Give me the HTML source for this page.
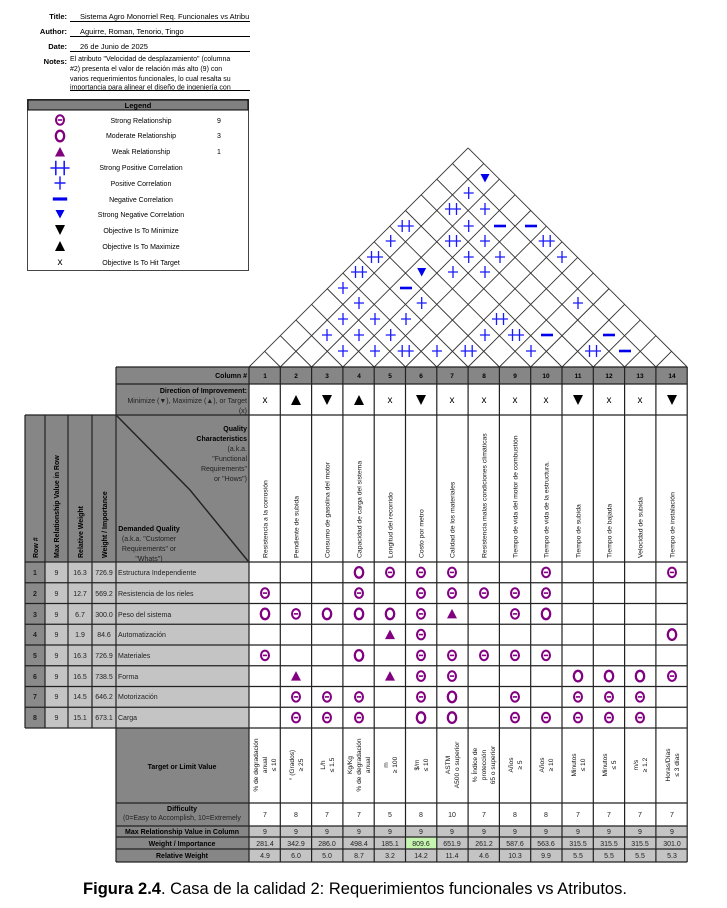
<!DOCTYPE html>
<html><head><meta charset="utf-8"><style>
html,body{margin:0;padding:0;background:#fff;}
svg{display:block;font-family:"Liberation Sans",Arial,sans-serif;}
</style></head><body>
<svg width="727" height="908" viewBox="0 0 727 908" xmlns="http://www.w3.org/2000/svg">
<defs>
<g id="p"><path d="M-5 0H5M0-6V6" stroke="#1a1aff" stroke-width="1.3" fill="none"/></g>
<g id="pp"><path d="M-8 0H8M-3.5-6V6M3.5-6V6" stroke="#1a1aff" stroke-width="1.3" fill="none"/></g>
<g id="mn"><path d="M-6 0H6" stroke="#0000ee" stroke-width="2.6"/></g>
<g id="tv"><polygon points="-4.5,-4 4.5,-4 0,4.5" fill="#0000ee"/></g>
<g id="S"><ellipse rx="4" ry="4.8" fill="none" stroke="#800080" stroke-width="2"/><path d="M-2.2 0H2.2" stroke="#800080" stroke-width="1.6"/></g>
<g id="M"><ellipse rx="4.2" ry="5.3" fill="none" stroke="#800080" stroke-width="2.3"/></g>
<g id="W"><polygon points="-5,4.5 5,4.5 0,-5" fill="#800080"/></g>
<g id="dn"><polygon points="-5,-5 5,-5 0,5" fill="#000"/></g>
<g id="up"><polygon points="-5,5 5,5 0,-5" fill="#000"/></g>
</defs>

<!-- Title block -->
<g font-size="7.5" fill="#000">
<text x="67" y="19" text-anchor="end" font-weight="bold">Title:</text>
<text x="80" y="19">Sistema Agro Monorriel Req. Funcionales vs Atribu</text>
<text x="67" y="34" text-anchor="end" font-weight="bold">Author:</text>
<text x="80" y="34">Aguirre, Roman, Tenorio, Tingo</text>
<text x="67" y="49" text-anchor="end" font-weight="bold">Date:</text>
<text x="80" y="49">26 de Junio de 2025</text>
<text x="67" y="64" text-anchor="end" font-weight="bold">Notes:</text>
<text x="70" y="61" font-size="7">El atributo "Velocidad de desplazamiento" (columna</text>
<text x="70" y="71" font-size="7">#2) presenta el valor de relación más alto (9) con</text>
<text x="70" y="81" font-size="7">varios requerimientos funcionales, lo cual resalta su</text>
</g>
<text x="70" y="89.5" font-size="7" fill="#000">importancia para alinear el diseño de ingeniería con</text>
<rect x="68" y="89.6" width="183" height="3" fill="#fff"/>
<g stroke="#000" stroke-width="1">
<line x1="70" y1="21.5" x2="250" y2="21.5"/>
<line x1="70" y1="36.5" x2="250" y2="36.5"/>
<line x1="70" y1="51.5" x2="250" y2="51.5"/>
<line x1="70" y1="90.5" x2="250" y2="90.5"/>
</g>

<!-- Legend -->
<rect x="27.5" y="99.5" width="221" height="171" fill="#fff" stroke="#444" stroke-width="1"/>
<rect x="28" y="100" width="220" height="10" fill="#808080" stroke="#000" stroke-width="1"/>
<text x="138" y="108" font-size="7.5" font-weight="bold" text-anchor="middle">Legend</text>
<g font-size="7" text-anchor="middle" fill="#000">
<use href="#S" x="60" y="120"/><text x="141" y="123">Strong Relationship</text><text x="219" y="123">9</text>
<use href="#M" x="60" y="136"/><text x="141" y="138">Moderate Relationship</text><text x="219" y="138">3</text>
<use href="#W" x="60" y="152"/><text x="141" y="154">Weak Relationship</text><text x="219" y="154">1</text>
<g transform="translate(60,168) scale(1.2)"><use href="#pp"/></g><text x="141" y="170">Strong Positive Correlation</text>
<g transform="translate(60,183) scale(1.1)"><use href="#p"/></g><text x="141" y="186">Positive Correlation</text>
<g transform="translate(60,199) scale(1.2)"><use href="#mn"/></g><text x="141" y="202">Negative Correlation</text>
<use href="#tv" x="60" y="214"/><text x="141" y="217">Strong Negative Correlation</text>
<use href="#dn" x="60" y="230"/><text x="141" y="233">Objective Is To Minimize</text>
<use href="#up" x="60" y="246"/><text x="141" y="249">Objective Is To Maximize</text>
<text x="60" y="265" font-size="10">x</text><text x="141" y="265">Objective Is To Hit Target</text>
</g>

<!-- Roof -->
<g stroke="#333" stroke-width="0.9" fill="none">
<line x1="249" y1="367" x2="468.1" y2="147.9"/>
<line x1="280.3" y1="367" x2="483.75" y2="163.55"/>
<line x1="311.6" y1="367" x2="499.4" y2="179.2"/>
<line x1="342.9" y1="367" x2="515.05" y2="194.85"/>
<line x1="374.2" y1="367" x2="530.7" y2="210.5"/>
<line x1="405.5" y1="367" x2="546.35" y2="226.15"/>
<line x1="436.8" y1="367" x2="562" y2="241.8"/>
<line x1="468.1" y1="367" x2="577.65" y2="257.45"/>
<line x1="499.4" y1="367" x2="593.3" y2="273.1"/>
<line x1="530.7" y1="367" x2="608.95" y2="288.75"/>
<line x1="562" y1="367" x2="624.6" y2="304.4"/>
<line x1="593.3" y1="367" x2="640.25" y2="320.05"/>
<line x1="624.6" y1="367" x2="655.9" y2="335.7"/>
<line x1="655.9" y1="367" x2="671.55" y2="351.35"/>
<line x1="280.3" y1="367" x2="264.65" y2="351.35"/>
<line x1="311.6" y1="367" x2="280.3" y2="335.7"/>
<line x1="342.9" y1="367" x2="295.95" y2="320.05"/>
<line x1="374.2" y1="367" x2="311.6" y2="304.4"/>
<line x1="405.5" y1="367" x2="327.25" y2="288.75"/>
<line x1="436.8" y1="367" x2="342.9" y2="273.1"/>
<line x1="468.1" y1="367" x2="358.55" y2="257.45"/>
<line x1="499.4" y1="367" x2="374.2" y2="241.8"/>
<line x1="530.7" y1="367" x2="389.85" y2="226.15"/>
<line x1="562" y1="367" x2="405.5" y2="210.5"/>
<line x1="593.3" y1="367" x2="421.15" y2="194.85"/>
<line x1="624.6" y1="367" x2="436.8" y2="179.2"/>
<line x1="655.9" y1="367" x2="452.45" y2="163.55"/>
<line x1="687.2" y1="367" x2="468.1" y2="147.9"/>
</g>
<g>
<use href="#tv" x="485" y="178"/>
<use href="#p" x="468.7" y="193"/>
<use href="#pp" x="453" y="209"/><use href="#p" x="485" y="209"/>
<use href="#pp" x="405.7" y="226"/><use href="#p" x="468.7" y="226"/><use href="#mn" x="500" y="226"/><use href="#mn" x="531" y="226"/>
<use href="#p" x="390.7" y="241"/><use href="#pp" x="453" y="241"/><use href="#p" x="485" y="241"/><use href="#pp" x="546.7" y="241"/>
<use href="#pp" x="375" y="257"/><use href="#p" x="468.7" y="257"/><use href="#p" x="500" y="257"/><use href="#p" x="562" y="257"/>
<use href="#pp" x="359" y="272"/><use href="#tv" x="421.7" y="272"/><use href="#p" x="453" y="272"/><use href="#p" x="485" y="272"/>
<use href="#p" x="343" y="288"/><use href="#mn" x="406" y="288"/>
<use href="#p" x="359" y="303"/><use href="#p" x="421.7" y="303"/><use href="#p" x="578" y="303"/>
<use href="#p" x="343" y="319"/><use href="#p" x="375" y="319"/><use href="#p" x="406" y="319"/><use href="#pp" x="500" y="319"/>
<use href="#p" x="327" y="335"/><use href="#p" x="359" y="335"/><use href="#p" x="390.7" y="335"/><use href="#p" x="485" y="335"/><use href="#pp" x="516" y="335"/><use href="#mn" x="547" y="335"/><use href="#mn" x="609" y="335"/>
<use href="#p" x="343" y="351"/><use href="#p" x="375" y="351"/><use href="#pp" x="405.7" y="351"/><use href="#p" x="437" y="351"/><use href="#pp" x="468.7" y="351"/><use href="#p" x="531" y="351"/><use href="#pp" x="593" y="351"/><use href="#mn" x="625" y="351"/>
</g>

<!-- backgrounds -->
<rect x="116" y="367" width="571.2" height="17" fill="#868686"/>
<rect x="116" y="384" width="133" height="31" fill="#868686"/>
<rect x="25" y="415" width="224" height="147" fill="#868686"/>
<rect x="25" y="562" width="224" height="166" fill="#c4c4c4"/>
<rect x="25" y="562" width="20" height="166" fill="#8a8a8a"/>
<rect x="116" y="728" width="133" height="134" fill="#868686"/>
<rect x="249" y="826" width="438.2" height="36" fill="#c4c4c4"/>
<rect x="405.5" y="837" width="31.3" height="12" fill="#c6f5b0"/>

<!-- grid lines -->
<g stroke="#222" stroke-width="1.2" fill="none">
<line x1="116" y1="367" x2="687.2" y2="367"/>
<line x1="116" y1="384" x2="687.2" y2="384"/>
<line x1="25" y1="415" x2="687.2" y2="415"/>
<line x1="25" y1="562" x2="687.2" y2="562"/>
<line x1="25" y1="582.75" x2="687.2" y2="582.75"/>
<line x1="25" y1="603.5" x2="687.2" y2="603.5"/>
<line x1="25" y1="624.25" x2="687.2" y2="624.25"/>
<line x1="25" y1="645" x2="687.2" y2="645"/>
<line x1="25" y1="665.75" x2="687.2" y2="665.75"/>
<line x1="25" y1="686.5" x2="687.2" y2="686.5"/>
<line x1="25" y1="707.25" x2="687.2" y2="707.25"/>
<line x1="25" y1="728" x2="687.2" y2="728"/>
<line x1="116" y1="803" x2="687.2" y2="803"/>
<line x1="116" y1="826" x2="687.2" y2="826"/>
<line x1="116" y1="837" x2="687.2" y2="837"/>
<line x1="116" y1="849" x2="687.2" y2="849"/>
<line x1="116" y1="862" x2="687.2" y2="862"/>
<line x1="25" y1="415" x2="25" y2="728"/>
<line x1="45" y1="415" x2="45" y2="728"/>
<line x1="68" y1="415" x2="68" y2="728"/>
<line x1="92" y1="415" x2="92" y2="728"/>
<line x1="116" y1="367" x2="116" y2="862"/>
<line x1="249" y1="367" x2="249" y2="862"/>
<line x1="280.3" y1="367" x2="280.3" y2="862"/>
<line x1="311.6" y1="367" x2="311.6" y2="862"/>
<line x1="342.9" y1="367" x2="342.9" y2="862"/>
<line x1="374.2" y1="367" x2="374.2" y2="862"/>
<line x1="405.5" y1="367" x2="405.5" y2="862"/>
<line x1="436.8" y1="367" x2="436.8" y2="862"/>
<line x1="468.1" y1="367" x2="468.1" y2="862"/>
<line x1="499.4" y1="367" x2="499.4" y2="862"/>
<line x1="530.7" y1="367" x2="530.7" y2="862"/>
<line x1="562" y1="367" x2="562" y2="862"/>
<line x1="593.3" y1="367" x2="593.3" y2="862"/>
<line x1="624.6" y1="367" x2="624.6" y2="862"/>
<line x1="655.9" y1="367" x2="655.9" y2="862"/>
<line x1="687.2" y1="367" x2="687.2" y2="862"/>
<polyline points="117,416 190,490 248,561" stroke-width="1.4"/>
</g>

<!-- header texts -->
<g font-size="7" fill="#000">
<text x="247" y="378" text-anchor="end" font-weight="bold">Column #</text>
<text x="247" y="393" text-anchor="end" font-weight="bold">Direction of Improvement:</text>
<text x="247" y="403" text-anchor="end" fill="#222">Minimize (▼), Maximize (▲), or Target</text>
<text x="247" y="413" text-anchor="end" fill="#222">(x)</text>
<text x="247" y="431" text-anchor="end" font-weight="bold">Quality</text>
<text x="247" y="441" text-anchor="end" font-weight="bold">Characteristics</text>
<text x="247" y="451" text-anchor="end" fill="#222">(a.k.a.</text>
<text x="247" y="461" text-anchor="end" fill="#222">"Functional</text>
<text x="247" y="471" text-anchor="end" fill="#222">Requirements"</text>
<text x="247" y="481" text-anchor="end" fill="#222">or "Hows")</text>
<text x="149" y="531" text-anchor="middle" font-weight="bold">Demanded Quality</text>
<text x="149" y="541" text-anchor="middle" fill="#222">(a.k.a. "Customer</text>
<text x="149" y="551" text-anchor="middle" fill="#222">Requirements" or</text>
<text x="149" y="561" text-anchor="middle" fill="#222">"Whats")</text>
<g font-weight="bold">
<text transform="translate(38,558) rotate(-90)">Row #</text>
<text transform="translate(59,558) rotate(-90)">Max Relationship Value in Row</text>
<text transform="translate(83,558) rotate(-90)">Relative Weight</text>
<text transform="translate(107,558) rotate(-90)">Weight / Importance</text>
</g>
<g font-weight="bold" text-anchor="middle" font-size="6.5">
<text x="265" y="378">1</text><text x="296" y="378">2</text><text x="327" y="378">3</text><text x="359" y="378">4</text><text x="390" y="378">5</text><text x="421" y="378">6</text><text x="452" y="378">7</text><text x="484" y="378">8</text><text x="515" y="378">9</text><text x="546" y="378">10</text><text x="578" y="378">11</text><text x="609" y="378">12</text><text x="640" y="378">13</text><text x="672" y="378">14</text>
</g>
<g font-size="6.8" fill="#111">
<text transform="translate(267.5,558) rotate(-90)">Resistencia a la corrosión</text>
<text transform="translate(298.5,558) rotate(-90)">Pendiente de subida</text>
<text transform="translate(329.5,558) rotate(-90)">Consumo de gasolina del motor</text>
<text transform="translate(361.5,558) rotate(-90)">Capacidad de carga del sistema</text>
<text transform="translate(392.5,558) rotate(-90)">Longitud del recorrido</text>
<text transform="translate(423.5,558) rotate(-90)">Costo por metro</text>
<text transform="translate(454.5,558) rotate(-90)">Calidad de los materiales</text>
<text transform="translate(486.5,558) rotate(-90)">Resistencia malas condiciones climáticas</text>
<text transform="translate(517.5,558) rotate(-90)">Tiempo de vida del motor de combustión</text>
<text transform="translate(548.5,558) rotate(-90)">Tiempo de vida de la estructura.</text>
<text transform="translate(580.5,558) rotate(-90)">Tiempo de subida</text>
<text transform="translate(611.5,558) rotate(-90)">Tiempo de bajada</text>
<text transform="translate(642.5,558) rotate(-90)">Velocidad de subida</text>
<text transform="translate(674.5,558) rotate(-90)">Tiempo de instalación</text>
</g>
</g>

<!-- directions -->
<g font-size="10" text-anchor="middle">
<text x="265" y="403">x</text>
<use href="#up" x="296" y="400"/>
<use href="#dn" x="327" y="400"/>
<use href="#up" x="359" y="400"/>
<text x="390" y="403">x</text>
<use href="#dn" x="421" y="400"/>
<text x="452" y="403">x</text><text x="484" y="403">x</text><text x="515" y="403">x</text><text x="546" y="403">x</text>
<use href="#dn" x="578" y="400"/>
<text x="609" y="403">x</text><text x="640" y="403">x</text>
<use href="#dn" x="672" y="400"/>
</g>

<!-- left data -->
<g font-size="7" text-anchor="middle" fill="#222">
<g font-weight="bold">
<text x="35" y="575">1</text><text x="35" y="596">2</text><text x="35" y="617">3</text><text x="35" y="637">4</text><text x="35" y="658">5</text><text x="35" y="679">6</text><text x="35" y="699">7</text><text x="35" y="720">8</text>
</g>
<text x="56.5" y="575">9</text><text x="56.5" y="596">9</text><text x="56.5" y="617">9</text><text x="56.5" y="637">9</text><text x="56.5" y="658">9</text><text x="56.5" y="679">9</text><text x="56.5" y="699">9</text><text x="56.5" y="720">9</text>
<text x="80" y="575">16.3</text><text x="80" y="596">12.7</text><text x="80" y="617">6.7</text><text x="80" y="637">1.9</text><text x="80" y="658">16.3</text><text x="80" y="679">16.5</text><text x="80" y="699">14.5</text><text x="80" y="720">15.1</text>
<text x="104" y="575">726.9</text><text x="104" y="596">569.2</text><text x="104" y="617">300.0</text><text x="104" y="637">84.6</text><text x="104" y="658">726.9</text><text x="104" y="679">738.5</text><text x="104" y="699">646.2</text><text x="104" y="720">673.1</text>
</g>
<g font-size="7" fill="#222">
<text x="118" y="575">Estructura Independiente</text>
<text x="118" y="596">Resistencia de los rieles</text>
<text x="118" y="617">Peso del sistema</text>
<text x="118" y="637">Automatización</text>
<text x="118" y="658">Materiales</text>
<text x="118" y="679">Forma</text>
<text x="118" y="699">Motorización</text>
<text x="118" y="720">Carga</text>
</g>

<!-- relationships -->
<g>
<use href="#M" x="359" y="572.4"/><use href="#S" x="390" y="572.4"/><use href="#S" x="421" y="572.4"/><use href="#S" x="452" y="572.4"/><use href="#S" x="546" y="572.4"/><use href="#S" x="672" y="572.4"/>
<use href="#S" x="265" y="593.1"/><use href="#S" x="359" y="593.1"/><use href="#S" x="421" y="593.1"/><use href="#S" x="452" y="593.1"/><use href="#S" x="484" y="593.1"/><use href="#S" x="515" y="593.1"/><use href="#S" x="546" y="593.1"/>
<use href="#M" x="265" y="613.9"/><use href="#S" x="296" y="613.9"/><use href="#M" x="327" y="613.9"/><use href="#M" x="359" y="613.9"/><use href="#M" x="390" y="613.9"/><use href="#S" x="421" y="613.9"/><use href="#W" x="452" y="613.9"/><use href="#S" x="515" y="613.9"/><use href="#M" x="546" y="613.9"/>
<use href="#W" x="390" y="634.6"/><use href="#S" x="421" y="634.6"/><use href="#M" x="672" y="634.6"/>
<use href="#S" x="265" y="655.4"/><use href="#M" x="359" y="655.4"/><use href="#S" x="421" y="655.4"/><use href="#S" x="452" y="655.4"/><use href="#S" x="484" y="655.4"/><use href="#S" x="515" y="655.4"/><use href="#S" x="546" y="655.4"/>
<use href="#W" x="296" y="676.1"/><use href="#W" x="390" y="676.1"/><use href="#S" x="421" y="676.1"/><use href="#S" x="452" y="676.1"/><use href="#M" x="578" y="676.1"/><use href="#M" x="609" y="676.1"/><use href="#M" x="640" y="676.1"/><use href="#S" x="672" y="676.1"/>
<use href="#S" x="296" y="696.9"/><use href="#S" x="327" y="696.9"/><use href="#S" x="359" y="696.9"/><use href="#S" x="421" y="696.9"/><use href="#M" x="452" y="696.9"/><use href="#S" x="515" y="696.9"/><use href="#S" x="578" y="696.9"/><use href="#S" x="609" y="696.9"/><use href="#S" x="640" y="696.9"/>
<use href="#S" x="296" y="717.6"/><use href="#S" x="327" y="717.6"/><use href="#S" x="359" y="717.6"/><use href="#M" x="421" y="717.6"/><use href="#M" x="452" y="717.6"/><use href="#S" x="515" y="717.6"/><use href="#S" x="546" y="717.6"/><use href="#S" x="578" y="717.6"/><use href="#S" x="609" y="717.6"/><use href="#S" x="640" y="717.6"/>
</g>

<!-- bottom labels -->
<g font-size="7" text-anchor="middle" fill="#000">
<text x="182" y="769" font-weight="bold">Target or Limit Value</text>
<text x="182" y="811" font-weight="bold">Difficulty</text>
<text x="182" y="820" fill="#222">(0=Easy to Accomplish, 10=Extremely</text>
<text x="182" y="834" font-weight="bold">Max Relationship Value in Column</text>
<text x="182" y="846" font-weight="bold">Weight / Importance</text>
<text x="182" y="858" font-weight="bold">Relative Weight</text>
</g>

<!-- targets -->
<g font-size="6.6" text-anchor="middle" fill="#111">
<text transform="translate(258,765) rotate(-90)">% de degradación</text>
<text transform="translate(267,765) rotate(-90)">anual</text>
<text transform="translate(276,765) rotate(-90)">≤ 10</text>
<text transform="translate(294,765) rotate(-90)">° (Grados)</text>
<text transform="translate(303,765) rotate(-90)">≥ 25</text>
<text transform="translate(325,765) rotate(-90)">L/h</text>
<text transform="translate(334,765) rotate(-90)">≤ 1.5</text>
<text transform="translate(352,765) rotate(-90)">Kg/Kg</text>
<text transform="translate(361,765) rotate(-90)">% de degradación</text>
<text transform="translate(370,765) rotate(-90)">anual</text>
<text transform="translate(388,765) rotate(-90)">m</text>
<text transform="translate(397,765) rotate(-90)">≥ 100</text>
<text transform="translate(419,765) rotate(-90)">$/m</text>
<text transform="translate(428,765) rotate(-90)">≤ 10</text>
<text transform="translate(450,765) rotate(-90)">ASTM</text>
<text transform="translate(459,765) rotate(-90)">A500 o superior</text>
<text transform="translate(477,765) rotate(-90)">% Índice de</text>
<text transform="translate(486,765) rotate(-90)">protección</text>
<text transform="translate(495,765) rotate(-90)">65 o superior</text>
<text transform="translate(513,765) rotate(-90)">Años</text>
<text transform="translate(522,765) rotate(-90)">≥ 5</text>
<text transform="translate(544,765) rotate(-90)">Años</text>
<text transform="translate(553,765) rotate(-90)">≥ 10</text>
<text transform="translate(576,765) rotate(-90)">Minutos</text>
<text transform="translate(585,765) rotate(-90)">≤ 10</text>
<text transform="translate(607,765) rotate(-90)">Minutos</text>
<text transform="translate(616,765) rotate(-90)">≤ 5</text>
<text transform="translate(638,765) rotate(-90)">m/s</text>
<text transform="translate(647,765) rotate(-90)">≥ 1.2</text>
<text transform="translate(670,765) rotate(-90)">Horas/Días</text>
<text transform="translate(679,765) rotate(-90)">≤ 3 días</text>
</g>

<!-- bottom values -->
<g font-size="7" text-anchor="middle" fill="#222">
<text x="265" y="817">7</text><text x="296" y="817">8</text><text x="327" y="817">7</text><text x="359" y="817">7</text><text x="390" y="817">5</text><text x="421" y="817">8</text><text x="452" y="817">10</text><text x="484" y="817">7</text><text x="515" y="817">8</text><text x="546" y="817">8</text><text x="578" y="817">7</text><text x="609" y="817">7</text><text x="640" y="817">7</text><text x="672" y="817">7</text>
<text x="265" y="834">9</text><text x="296" y="834">9</text><text x="327" y="834">9</text><text x="359" y="834">9</text><text x="390" y="834">9</text><text x="421" y="834">9</text><text x="452" y="834">9</text><text x="484" y="834">9</text><text x="515" y="834">9</text><text x="546" y="834">9</text><text x="578" y="834">9</text><text x="609" y="834">9</text><text x="640" y="834">9</text><text x="672" y="834">9</text>
<text x="265" y="846">281.4</text><text x="296" y="846">342.9</text><text x="327" y="846">286.0</text><text x="359" y="846">498.4</text><text x="390" y="846">185.1</text><text x="421" y="846">809.6</text><text x="452" y="846">651.9</text><text x="484" y="846">261.2</text><text x="515" y="846">587.6</text><text x="546" y="846">563.6</text><text x="578" y="846">315.5</text><text x="609" y="846">315.5</text><text x="640" y="846">315.5</text><text x="672" y="846">301.0</text>
<text x="265" y="858">4.9</text><text x="296" y="858">6.0</text><text x="327" y="858">5.0</text><text x="359" y="858">8.7</text><text x="390" y="858">3.2</text><text x="421" y="858">14.2</text><text x="452" y="858">11.4</text><text x="484" y="858">4.6</text><text x="515" y="858">10.3</text><text x="546" y="858">9.9</text><text x="578" y="858">5.5</text><text x="609" y="858">5.5</text><text x="640" y="858">5.5</text><text x="672" y="858">5.3</text>
</g>

<!-- caption -->
<text x="355" y="894" font-size="16.5" text-anchor="middle" fill="#000"><tspan font-weight="bold">Figura 2.4</tspan>. Casa de la calidad 2: Requerimientos funcionales vs Atributos.</text>
</svg>
</body></html>
